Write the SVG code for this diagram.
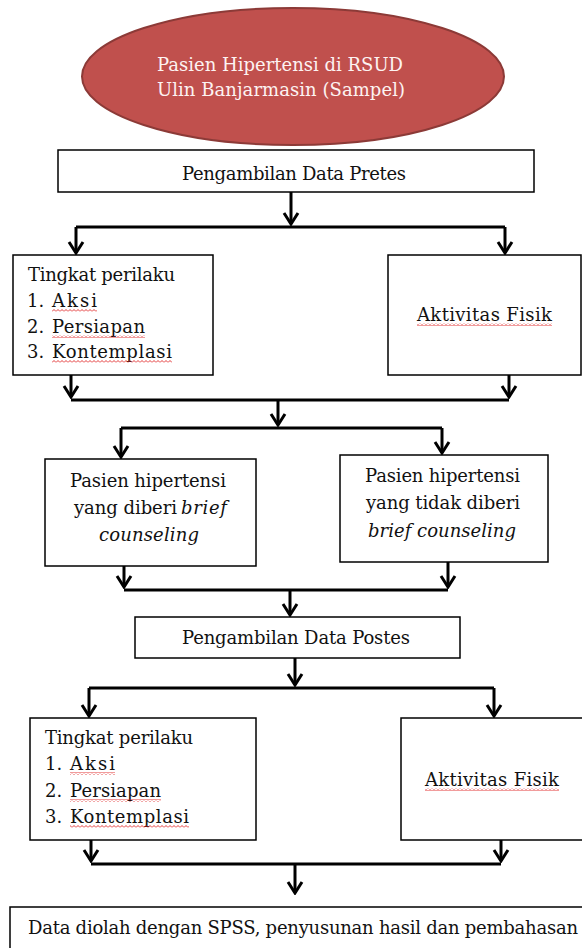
<svg xmlns="http://www.w3.org/2000/svg" width="582" height="948" viewBox="0 0 582 948">
  <style>
    .box { fill: #ffffff; stroke: #000000; stroke-width: 1.5; }
    .t { font-family: "DejaVu Serif", "Liberation Serif", serif; font-size: 18px; fill: #111111; }
    .it { font-style: italic; }
    .wt { fill: #fdf3f2; }
    .con { fill: none; stroke: #000000; stroke-width: 3; }
    .sq { fill: url(#squig); }
  </style>
  <defs>
    <marker id="arr" viewBox="-13 -9 15 18" refX="0" refY="0" markerWidth="15" markerHeight="18" markerUnits="userSpaceOnUse" orient="auto">
      <path d="M-11,-7 L0,0 L-11,7" fill="none" stroke="#000000" stroke-width="3"/>
    </marker>
    <pattern id="squig" width="4" height="3" patternUnits="userSpaceOnUse">
      <path d="M0,2.5 L2,0.5 L4,2.5" fill="none" stroke="#e02020" stroke-width="0.9"/>
    </pattern>
  </defs>

  <g id="connectors">
    <path class="con" d="M291,192 V224" marker-end="url(#arr)"/>
    <path class="con" d="M76,227 H505"/>
    <path class="con" d="M76,227 V253" marker-end="url(#arr)"/>
    <path class="con" d="M505,227 V253" marker-end="url(#arr)"/>

    <path class="con" d="M71,375 V397" marker-end="url(#arr)"/>
    <path class="con" d="M509,375 V397" marker-end="url(#arr)"/>
    <path class="con" d="M71,400 H509"/>
    <path class="con" d="M278,400 V425" marker-end="url(#arr)"/>

    <path class="con" d="M121,428 H442"/>
    <path class="con" d="M121,428 V457" marker-end="url(#arr)"/>
    <path class="con" d="M442,428 V453" marker-end="url(#arr)"/>

    <path class="con" d="M124,566 V587" marker-end="url(#arr)"/>
    <path class="con" d="M448,562 V587" marker-end="url(#arr)"/>
    <path class="con" d="M124,590 H448"/>
    <path class="con" d="M290,590 V615" marker-end="url(#arr)"/>

    <path class="con" d="M295,658 V685" marker-end="url(#arr)"/>
    <path class="con" d="M89,688 H494"/>
    <path class="con" d="M89,688 V716" marker-end="url(#arr)"/>
    <path class="con" d="M494,688 V716" marker-end="url(#arr)"/>

    <path class="con" d="M91,840 V861" marker-end="url(#arr)"/>
    <path class="con" d="M501,840 V861" marker-end="url(#arr)"/>
    <path class="con" d="M91,864 H501"/>
    <path class="con" d="M295,864 V893" marker-end="url(#arr)"/>
  </g>

  <g id="sampel">
    <ellipse cx="293" cy="76.5" rx="211" ry="68.5" fill="#c0504d" stroke="#8c3a37" stroke-width="2"/>
    <text class="t wt" x="157" y="71" textLength="246" lengthAdjust="spacing">Pasien Hipertensi di RSUD</text>
    <text class="t wt" x="157" y="96" textLength="248" lengthAdjust="spacing">Ulin Banjarmasin (Sampel)</text>
  </g>

  <g id="pretes">
    <rect class="box" x="58" y="150" width="476" height="42"/>
    <text class="t" x="182" y="180" textLength="224" lengthAdjust="spacing">Pengambilan Data Pretes</text>
  </g>

  <g id="perilaku-pre">
    <rect class="box" x="13" y="255" width="200" height="120"/>
    <text class="t" x="28" y="281" textLength="147" lengthAdjust="spacing">Tingkat perilaku</text>
    <text class="t" x="27" y="307">1.</text>
    <text class="t" x="52" y="307" textLength="45" lengthAdjust="spacing">Aksi</text>
    <rect class="sq" x="52" y="309" width="45" height="3"/>
    <text class="t" x="27" y="333">2.</text>
    <text class="t" x="52" y="333" textLength="93" lengthAdjust="spacing">Persiapan</text>
    <rect class="sq" x="52" y="335" width="93" height="3"/>
    <text class="t" x="27" y="358">3.</text>
    <text class="t" x="52" y="358" textLength="120" lengthAdjust="spacing">Kontemplasi</text>
    <rect class="sq" x="52" y="360" width="120" height="3"/>
  </g>

  <g id="aktivitas-pre">
    <rect class="box" x="388" y="255" width="193" height="120"/>
    <text class="t" x="417" y="321" textLength="135" lengthAdjust="spacing">Aktivitas Fisik</text>
    <rect class="sq" x="417" y="323" width="135" height="3"/>
  </g>

  <g id="diberi">
    <rect class="box" x="45" y="459" width="211" height="107"/>
    <text class="t" x="70" y="487" textLength="156" lengthAdjust="spacing">Pasien hipertensi</text>
    <text class="t" x="74" y="514" textLength="103" lengthAdjust="spacing">yang diberi</text>
    <text class="t it" x="181" y="514" textLength="46" lengthAdjust="spacing">brief</text>
    <text class="t it" x="99" y="541" textLength="100" lengthAdjust="spacing">counseling</text>
  </g>

  <g id="tidak-diberi">
    <rect class="box" x="340" y="455" width="208" height="107"/>
    <text class="t" x="365" y="482" textLength="155" lengthAdjust="spacing">Pasien hipertensi</text>
    <text class="t" x="366" y="509" textLength="154" lengthAdjust="spacing">yang tidak diberi</text>
    <text class="t it" x="368" y="537" textLength="148" lengthAdjust="spacing">brief counseling</text>
  </g>

  <g id="postes">
    <rect class="box" x="135" y="617" width="325" height="41"/>
    <text class="t" x="182" y="644" textLength="228" lengthAdjust="spacing">Pengambilan Data Postes</text>
  </g>

  <g id="perilaku-post">
    <rect class="box" x="30" y="718" width="226" height="122"/>
    <text class="t" x="45" y="744" textLength="148" lengthAdjust="spacing">Tingkat perilaku</text>
    <text class="t" x="45" y="770">1.</text>
    <text class="t" x="70" y="770" textLength="45" lengthAdjust="spacing">Aksi</text>
    <rect class="sq" x="70" y="772" width="45" height="3"/>
    <text class="t" x="45" y="797">2.</text>
    <text class="t" x="70" y="797" textLength="91" lengthAdjust="spacing">Persiapan</text>
    <rect class="sq" x="70" y="799" width="91" height="3"/>
    <text class="t" x="45" y="823">3.</text>
    <text class="t" x="70" y="823" textLength="119" lengthAdjust="spacing">Kontemplasi</text>
    <rect class="sq" x="70" y="825" width="119" height="3"/>
  </g>

  <g id="aktivitas-post">
    <rect class="box" x="401" y="718" width="190" height="122"/>
    <text class="t" x="425" y="786" textLength="134" lengthAdjust="spacing">Aktivitas Fisik</text>
    <rect class="sq" x="425" y="788" width="134" height="3"/>
  </g>

  <g id="hasil">
    <rect class="box" x="10" y="907" width="590" height="60"/>
    <text class="t" x="28" y="934" textLength="550" lengthAdjust="spacing">Data diolah dengan SPSS, penyusunan hasil dan pembahasan</text>
  </g>
</svg>
